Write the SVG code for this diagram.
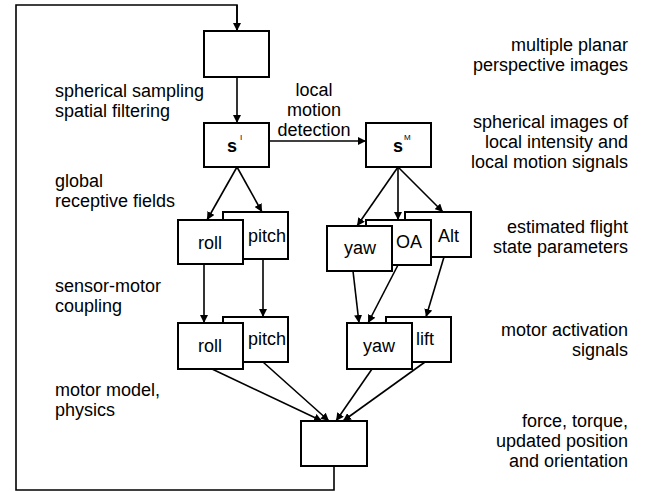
<svg xmlns="http://www.w3.org/2000/svg" width="654" height="492" viewBox="0 0 654 492">
<style>
.box{fill:#fff;stroke:#000;stroke-width:2}
.t{font-family:"Liberation Sans",Arial,sans-serif;font-size:18px;fill:#000}
.r{text-anchor:end}
.m{text-anchor:middle}
.c{fill:none;stroke:#000;stroke-width:1.6}
.sup{font-family:"Liberation Sans",Arial,sans-serif;font-size:8px;fill:#000}
.b{font-weight:bold}
</style>
<defs>
<marker id="ah" viewBox="0 0 10 10" refX="10" refY="5" markerWidth="8" markerHeight="8" orient="auto" markerUnits="userSpaceOnUse">
<path d="M0,0 L10,5 L0,10 z" fill="#000"/>
</marker>
</defs>
<rect width="654" height="492" fill="#fff"/>
<g id="connectors">
<path class="c" d="M334,466 V490 H16 V5 H237 V31"/>
<path class="c" d="M237,5 V31" marker-end="url(#ah)"/>
<path class="c" d="M237,77 V123" marker-end="url(#ah)"/>
<path class="c" d="M269,141 H366" marker-end="url(#ah)"/>
<path class="c" d="M237,167 L207,220" marker-end="url(#ah)"/>
<path class="c" d="M237,167 L262,212" marker-end="url(#ah)"/>
<path class="c" d="M398,167 L357,226" marker-end="url(#ah)"/>
<path class="c" d="M398,167 V220" marker-end="url(#ah)"/>
<path class="c" d="M398,167 L443,212" marker-end="url(#ah)"/>
<path class="c" d="M204,264 V323" marker-end="url(#ah)"/>
<path class="c" d="M263,259 V317" marker-end="url(#ah)"/>
<path class="c" d="M353,271 L359,323" marker-end="url(#ah)"/>
<path class="c" d="M398,265 L368,323" marker-end="url(#ah)"/>
<path class="c" d="M444,257 L426,317" marker-end="url(#ah)"/>
<path class="c" d="M212,369 L322,421" marker-end="url(#ah)"/>
<path class="c" d="M263,362 L329,421" marker-end="url(#ah)"/>
<path class="c" d="M372,369 L336,421" marker-end="url(#ah)"/>
<path class="c" d="M425,362 L343,421" marker-end="url(#ah)"/>
</g>
<g id="images"><rect class="box" x="204" y="31" width="65" height="46"/></g>
<g id="sI"><rect class="box" x="204" y="123" width="65" height="44"/><text class="t b" x="227" y="152">s</text><text class="sup" x="240" y="140">I</text></g>
<g id="sM"><rect class="box" x="366" y="123" width="65" height="44"/><text class="t b" x="393" y="152">s</text><text class="sup" x="404" y="140">M</text></g>
<g id="pitch1"><rect class="box" x="223" y="212" width="65" height="47"/><text class="t" x="248" y="242">pitch</text></g>
<g id="roll1"><rect class="box" x="178" y="220" width="65" height="44"/><text class="t m" x="210" y="249">roll</text></g>
<g id="alt"><rect class="box" x="405" y="212" width="66" height="45"/><text class="t" x="438" y="242">Alt</text></g>
<g id="oa"><rect class="box" x="366" y="220" width="65" height="45"/><text class="t" x="396" y="248">OA</text></g>
<g id="yaw1"><rect class="box" x="327" y="226" width="65" height="45"/><text class="t m" x="360" y="254">yaw</text></g>
<g id="pitch2"><rect class="box" x="223" y="317" width="65" height="45"/><text class="t" x="248" y="345">pitch</text></g>
<g id="roll2"><rect class="box" x="178" y="323" width="65" height="46"/><text class="t m" x="210" y="352">roll</text></g>
<g id="lift"><rect class="box" x="386" y="317" width="65" height="45"/><text class="t" x="416" y="345">lift</text></g>
<g id="yaw2"><rect class="box" x="347" y="323" width="65" height="46"/><text class="t m" x="379" y="352">yaw</text></g>
<g id="world"><rect class="box" x="301" y="421" width="66" height="45"/></g>
<g id="labels">
<text class="t" x="55" y="97">spherical sampling</text>
<text class="t" x="55" y="117">spatial filtering</text>
<text class="t m" x="314" y="96">local</text>
<text class="t m" x="314" y="116">motion</text>
<text class="t m" x="314" y="136">detection</text>
<text class="t" x="55" y="187">global</text>
<text class="t" x="55" y="207">receptive fields</text>
<text class="t" x="55" y="292">sensor-motor</text>
<text class="t" x="55" y="312">coupling</text>
<text class="t" x="55" y="396">motor model,</text>
<text class="t" x="55" y="416">physics</text>
<text class="t r" x="628" y="51">multiple planar</text>
<text class="t r" x="628" y="71">perspective images</text>
<text class="t r" x="628" y="128">spherical images of</text>
<text class="t r" x="628" y="148">local intensity and</text>
<text class="t r" x="628" y="168">local motion signals</text>
<text class="t r" x="628" y="233">estimated flight</text>
<text class="t r" x="628" y="253">state parameters</text>
<text class="t r" x="628" y="336">motor activation</text>
<text class="t r" x="628" y="356">signals</text>
<text class="t r" x="628" y="427">force, torque,</text>
<text class="t r" x="628" y="447">updated position</text>
<text class="t r" x="628" y="467">and orientation</text>
</g>
</svg>
